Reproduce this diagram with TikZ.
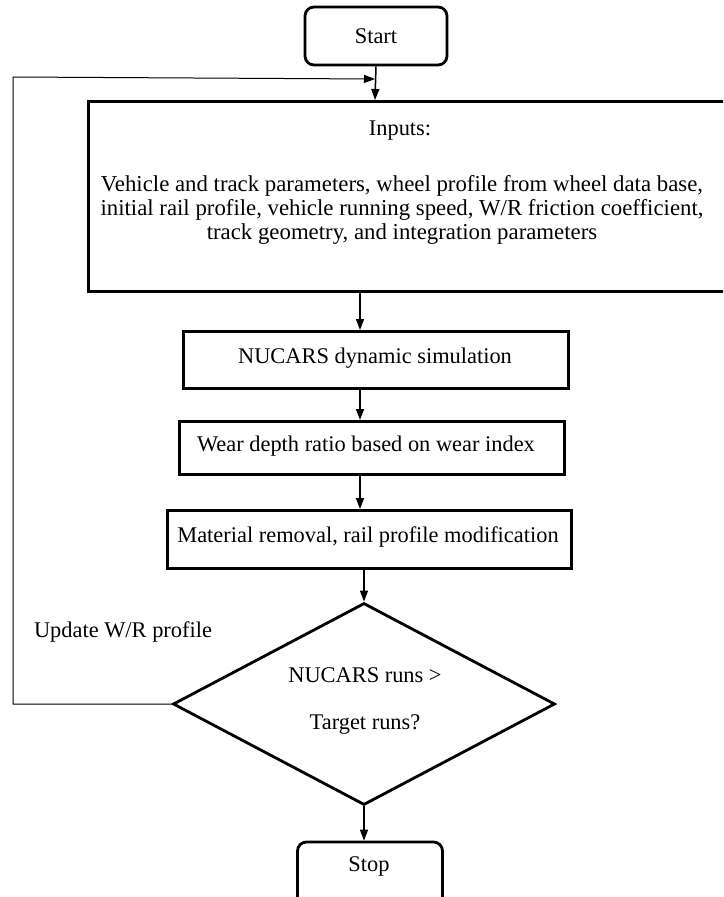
\documentclass[tikz,border=0pt]{standalone}
\usepackage{fontspec}
\setmainfont{Liberation Serif}
\usetikzlibrary{arrows.meta,shapes.geometric}
\begin{document}
\begin{tikzpicture}[x=1pt,y=-1pt,
  every node/.style={font=\fontsize{22.4}{26}\selectfont},
  box/.style={draw,line width=2.8pt,inner sep=0pt,anchor=north west},
  term/.style={draw,line width=2.8pt,rounded corners=9pt,inner sep=0pt},
  txt/.style={inner sep=0pt},
  arr/.style={line width=1.5pt,-{Triangle[length=11pt,width=8pt]}},
  loop/.style={line width=1pt,-{Triangle[length=11pt,width=8pt]}}]
\useasboundingbox (0,0) rectangle (723,897);
\clip (0,0) rectangle (723,897);
\node[term,minimum width=142pt,minimum height=58pt] (start) at (376,36) {Start};
\node[box,minimum width=660pt,minimum height=190pt] (inputs) at (87,100) {};
\node[txt] (inlab) at (400,131) {Inputs:};
\node[txt,align=center,font=\fontsize{22.8}{24}\selectfont] (intext) at (402,210)
  {Vehicle and track parameters, wheel profile from wheel data base,\\
   initial rail profile, vehicle running speed, W/R friction coefficient,\\
   track geometry, and integration parameters};
\node[box,minimum width=385pt,minimum height=57pt] (nucars) at (182,330) {};
\node[txt] (nucarslab) at (375,358) {NUCARS dynamic simulation};
\node[box,minimum width=385pt,minimum height=53pt] (wear) at (178,420) {};
\node[txt] (wearlab) at (366,446) {Wear depth ratio based on wear index};
\node[box,minimum width=404pt,minimum height=58pt] (mat) at (166,509) {};
\node[txt] (matlab) at (368,537) {Material removal, rail profile modification};
\node[draw,line width=2.8pt,diamond,aspect=1.89,minimum width=382pt,minimum height=202pt,inner sep=0pt] (dec) at (364,704) {};
\node[txt] (dec1) at (365,675) {NUCARS runs >};
\node[txt] (dec2) at (365,724) {Target runs?};
\node[txt] (upd) at (123,632) {Update W/R profile};
\node[term,minimum width=145pt,minimum height=80pt] (stop) at (370,882) {};
\node[txt] (stoplab) at (369,866) {Stop};
\coordinate (topin) at (375,100);
\draw[arr] (start.south) -- (topin);
\draw[arr] (360,290) -- (360,330);
\draw[arr] (360,387) -- (360,420);
\draw[arr] (360,473) -- (360,509);
\draw[arr] (364,567) -- (dec.north);
\draw[arr] (dec.south) -- (stop.north -| dec.south);
\coordinate (lb) at (13,704);
\coordinate (lt) at (13,77);
\coordinate (le) at (375,79);
\draw[loop] (dec.west) -- (lb) -- (lt) -- (le);
\end{tikzpicture}
\end{document}
